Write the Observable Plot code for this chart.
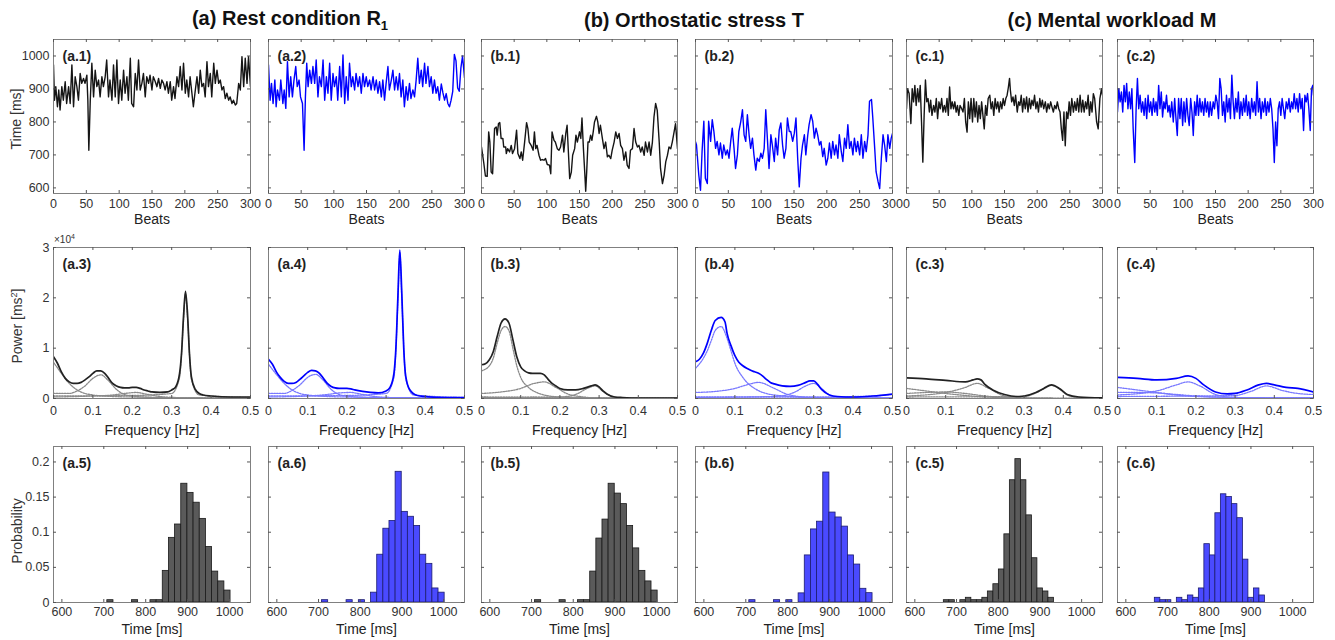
<!DOCTYPE html>
<html><head><meta charset="utf-8">
<script src="https://cdn.jsdelivr.net/npm/d3@7"></script>
<script src="https://cdn.jsdelivr.net/npm/@observablehq/plot@0.6"></script>
<style>
body{margin:0;background:#fff;}
#root{position:relative;width:1335px;height:640px;overflow:hidden;font-family:"Liberation Sans",Arial,Helvetica,sans-serif;}
.abs{position:absolute;white-space:nowrap;line-height:1;}
.title{font-weight:bold;font-size:20px;color:#111;transform:translate(-50%,-50%);}
.ylab{font-size:14px;color:#333;transform:translate(-50%,-50%) rotate(-90deg);}
.exp{font-size:10px;color:#333;}
</style></head><body><div id="root"></div><script>
// ---------- titles & labels ----------
const columnTitles = ["(a) Rest condition  R<sub style='font-size:13px'>1</sub>", "(b) Orthostatic stress T", "(c) Mental workload M"];
const panelLabels = [["(a.1)","(a.2)","(b.1)","(b.2)","(c.1)","(c.2)"],["(a.3)","(a.4)","(b.3)","(b.4)","(c.3)","(c.4)"],["(a.5)","(a.6)","(b.5)","(b.6)","(c.5)","(c.6)"]];
const xLabels = ["Beats","Frequency [Hz]","Time [ms]"];
const yLabels = ["Time [ms]","Power [ms<sup style='font-size:9px'>2</sup>]","Probability"];

// ---------- tick values ----------
const beatTicks = [0,50,100,150,200,250,300];
const rrTicks = [600,700,800,900,1000];
const freqTicks = [0,0.1,0.2,0.3,0.4,0.5];
const powerTicks = [0,1,2,3];            // ×10^4 ms²
const msTicks = [600,700,800,900,1000];
const probTicks = [0,0.05,0.1,0.15,0.2];

// ---------- RR time series [beat, ms] ----------
const a1 = [[0,973],[1.5,866],[3.5,907],[6,846],[8,897],[10,836],[12.7,907],[15,866],[17.8,922],[20,856],[23,907],[25.4,856],[28,973],[30.5,846],[33,937],[35.6,907],[38,866],[40.6,947],[43,917],[45.7,932],[48,917],[50.8,942],[52.3,866],[53.8,714],[56,866],[58.4,978],[61,876],[63.5,957],[66,907],[68.6,927],[71,876],[73.7,937],[76,907],[78.7,937],[81,988],[83.8,876],[86,927],[89,866],[91.4,973],[94,876],[96.5,988],[99,856],[101.6,927],[104,866],[106.7,957],[109,887],[111.8,937],[114,866],[117,993],[119,856],[122,846],[124.5,947],[127,897],[129.5,988],[132,897],[134.6,917],[137,947],[139.7,876],[142,937],[144.8,917],[147,942],[149.9,897],[152,937],[155,922],[157.5,907],[160,932],[162.6,902],[165,927],[167.6,917],[170,897],[172.7,922],[175,887],[177.8,922],[180,866],[182.8,907],[185,871],[188,937],[190.5,907],[193,968],[195.6,897],[198,978],[200.7,887],[203,927],[205.7,876],[208,937],[210.8,887],[213,846],[216,897],[218.5,937],[221,887],[223.5,957],[226,907],[228.6,917],[231,876],[233.7,983],[236,907],[238.8,947],[241,876],[244,978],[246.4,917],[249,957],[251.5,917],[254,927],[256.5,897],[259,907],[261.6,871],[264,887],[266.7,866],[269,876],[271.8,856],[274,866],[276.9,851],[279,856],[282,917],[284.5,897],[287,998],[289.6,907],[292,993],[294.7,917],[297,998],[300,907]];
const a2 = [[0,973],[2.5,866],[4.6,917],[7,856],[9.7,927],[11.7,846],[13.7,897],[16.8,866],[18.8,927],[22,856],[24,897],[26.5,841],[29,983],[31.6,876],[34,937],[36.6,876],[39,927],[41.7,968],[44,907],[46.8,927],[49,876],[52,856],[54.5,714],[56.5,876],[58.5,978],[60.6,907],[63,957],[65.7,917],[68,968],[70.7,917],[73,988],[75.7,876],[78,937],[80.9,907],[83.5,988],[86,866],[88.6,937],[91,887],[93.6,978],[96,866],[98.7,947],[101,907],[103.8,937],[106,866],[108.9,968],[111.5,876],[114,1003],[116.6,856],[119,937],[121.7,866],[124,978],[126.7,907],[129,937],[131.8,897],[134,947],[137,907],[139.5,937],[142,887],[144.6,947],[147,907],[149.6,937],[152,907],[154.8,927],[157,897],[160,937],[162.4,897],[165,927],[167.5,887],[170,922],[172.7,876],[175,927],[177.6,866],[180,917],[182.8,968],[185,897],[188,927],[190.4,957],[193,897],[195.5,937],[198,897],[200.5,947],[203,876],[205.6,927],[208,846],[210.7,907],[213,866],[215.8,917],[218,871],[221,897],[223.5,876],[226,927],[228.5,993],[231,917],[233.8,957],[236,907],[238.9,978],[241,917],[244,968],[246.4,907],[249,937],[251.5,887],[254,927],[256.5,887],[259,907],[261.6,866],[264.5,915],[267,888],[269.5,866],[272,886],[274.5,856],[277,846],[279.5,866],[282,893],[284.5,1005],[287,985],[289.5,903],[292,893],[294.5,964],[297,1000],[300,934]];
const b1 = [[0,724],[3.6,674],[6,636],[8.7,635],[11,770],[12.8,739],[14.8,648],[17,643],[20,780],[22.5,785],[24,760],[26,795],[28,798],[30,750],[32.7,750],[34,724],[37,724],[38,704],[40,719],[43,709],[45.5,729],[47.5,704],[50.6,719],[53.7,775],[55.7,704],[58.8,689],[60.8,709],[63,684],[66,739],[69,798],[71,780],[73,739],[76,729],[79,714],[81,770],[83,719],[85,729],[88,699],[90.5,684],[93,686],[95.6,684],[98,689],[100.7,671],[104,669],[106,643],[108,770],[111,744],[113,739],[116,719],[118.6,714],[121,724],[124,760],[126,709],[129,765],[131,790],[133,709],[135,628],[137.5,648],[139.5,699],[142.6,719],[144.6,760],[146.7,739],[150,770],[152,750],[153.8,812],[156,719],[158,648],[159.5,590],[161,648],[163,739],[165,739],[167,760],[169,744],[171,770],[173,800],[176,817],[178,800],[180,765],[182,790],[185,750],[187.5,719],[190,739],[192.7,694],[195,699],[197.8,689],[200,714],[203,739],[205.5,770],[208,750],[210.6,765],[213,729],[215.7,719],[218,684],[220.8,709],[223,669],[225.8,659],[228,714],[231,719],[233.5,780],[236,739],[238.7,724],[241,729],[243.7,709],[246,724],[249,699],[251,739],[254,709],[256.5,739],[259,699],[261.6,739],[264,815],[266.5,856],[269,835],[272,739],[274,659],[277,613],[279.5,638],[282,679],[284.6,699],[287,724],[289.7,719],[292,739],[294.8,770],[297,795],[300,719]];
const b2 = [[0,740],[1.5,730],[5,639],[7.6,593],[10,710],[12.7,802],[15,629],[18,613],[20,802],[23,741],[25.5,807],[28,771],[30.6,720],[33,741],[35.7,700],[38,736],[40.8,690],[43,730],[46,700],[48.5,715],[51,690],[53.6,741],[56,781],[58.7,720],[61,659],[63.8,700],[66,771],[69,802],[71.5,837],[74,761],[76.5,741],[79,822],[81.6,761],[84,720],[86.7,751],[89,700],[91.8,654],[94,690],[97,680],[99.5,705],[102,690],[104.6,720],[107,837],[109.7,741],[112,659],[114.8,761],[117,730],[120,680],[122,751],[125,700],[127.5,776],[130,797],[132.6,730],[135,690],[137.7,720],[140,812],[142.8,771],[145,771],[148,741],[150.5,766],[153,812],[155.6,690],[158,603],[160.7,690],[163,730],[165.8,761],[168,700],[171,761],[173,792],[176,822],[178.5,802],[181,751],[183.6,781],[186,761],[188.7,730],[191,741],[193.8,695],[196,720],[199,669],[201.5,690],[204,736],[206.6,690],[209,741],[211.7,700],[214,730],[216.8,690],[219,761],[222,710],[224.4,680],[227,751],[229.5,720],[232,792],[234.6,720],[237,741],[239.7,700],[242,751],[244.8,710],[247,741],[250,700],[252.5,761],[255,690],[257.6,741],[260,710],[262.7,761],[265,863],[268,868],[270,812],[272.9,720],[275,649],[278,619],[280.5,598],[283,690],[285.6,761],[288,730],[290.7,680],[293,761],[295.8,720],[298,751],[300,765]];
const c1 = [[0,840],[1.5,901],[4,886],[6.7,795],[8.7,901],[10.8,861],[12.8,911],[14.8,850],[17,901],[19,861],[21,911],[23,800],[25,678],[27,820],[29,927],[31,861],[33,871],[35,830],[37,866],[39,820],[41.5,850],[43.5,830],[45.6,871],[47.6,810],[49.7,861],[51.7,840],[53.8,871],[55.8,830],[57.9,850],[60,830],[62,871],[64,820],[66,906],[68,840],[70,861],[72,840],[74,861],[76,830],[78,850],[80,820],[82,850],[84.5,840],[86.5,830],[88.6,871],[90.6,800],[92.7,769],[94.7,861],[96.8,810],[98.8,871],[101,800],[103,871],[105,815],[107,861],[109,800],[111,850],[113,810],[115,861],[117,820],[119,779],[121,850],[123,820],[125,871],[127.5,881],[129.5,840],[131.6,861],[133.6,820],[135.7,871],[137.7,840],[139.8,861],[141.8,830],[143.9,861],[146,840],[148,871],[150,850],[152,871],[154,881],[156,906],[157.7,932],[159,896],[161,861],[163,876],[165,850],[167,881],[169.5,830],[171.5,861],[173.6,850],[175.6,881],[177.7,830],[179.7,871],[181.8,840],[183.8,876],[186,830],[188,871],[190,840],[192,866],[194,850],[196,881],[198,840],[200,861],[202,830],[204,871],[206,845],[208,866],[210,840],[212.5,861],[214.5,830],[216.6,855],[218.6,840],[220.7,861],[222.7,845],[224.8,830],[226.8,850],[228.9,840],[230.9,861],[233,840],[235,830],[237,779],[239,744],[241,830],[243,728],[245,830],[247,810],[249,861],[251,820],[253,871],[255.5,830],[257.5,861],[259.6,835],[261.6,871],[263.7,830],[265.7,881],[267.8,830],[269.8,866],[271.9,830],[274,861],[276,840],[278,881],[280,820],[282,861],[284,830],[286,886],[288,871],[291,800],[293.4,779],[296,871],[298.5,901],[300,881]];
const c2 = [[0,830],[2,901],[4,861],[6,891],[8,830],[10,911],[12,861],[14,917],[16,840],[18,891],[20,840],[22,901],[24,779],[26.4,677],[28.5,840],[30.5,932],[32.5,840],[34.6,881],[36.6,830],[38.6,861],[40.7,820],[42.7,871],[44.7,810],[46.8,881],[48.8,830],[50.9,861],[52.9,820],[55,871],[57,830],[59,861],[61,820],[63,911],[65,840],[67,891],[69,815],[71,861],[73,840],[75,881],[77,830],[79,850],[81,815],[83,861],[85.4,800],[87.5,871],[89.5,810],[91.5,759],[93.5,871],[95.6,810],[97.6,871],[99.7,789],[101.7,861],[103.7,800],[105.8,871],[107.8,820],[109.8,789],[112,871],[114,830],[116,759],[118,861],[120,820],[122,881],[124,820],[126,871],[128,830],[130,861],[132,820],[134,871],[136,830],[138,861],[140,815],[142,861],[144,820],[146.5,861],[148.5,840],[150.5,881],[152.5,861],[154.6,810],[156.6,932],[158.6,901],[160.7,820],[162.7,861],[164.8,800],[166.8,881],[168.8,830],[170.9,871],[172.9,810],[175,942],[177,861],[179,810],[181,871],[183,830],[185,891],[187,810],[189,861],[191.2,820],[193,871],[195,830],[197,881],[199,820],[201,861],[203,810],[205.4,871],[207.4,830],[209.5,861],[211.5,820],[213.6,922],[215.6,830],[217.6,871],[219.7,810],[221.7,861],[223.7,830],[225.8,871],[227.8,820],[229.8,861],[231.9,830],[233.9,871],[236,840],[238,779],[240,677],[242,800],[244,728],[246,840],[248,861],[250,820],[252,871],[254,840],[256,810],[258.3,861],[260.4,840],[262.4,871],[264.4,830],[266.5,861],[268.5,840],[270.5,886],[272.6,840],[274.6,871],[276.6,830],[278.7,886],[280.7,840],[282.7,871],[284.8,774],[286.8,881],[288.8,861],[290.9,886],[292.9,840],[295,774],[297,901],[299,911],[300,881]];

// ---------- power spectra [Hz, power ×10^4 ms²]: total and components ----------
const a3Total = [[0,0.83],[0.01,0.7],[0.02,0.53],[0.03,0.4],[0.04,0.33],[0.05,0.3],[0.06,0.3],[0.07,0.32],[0.08,0.37],[0.09,0.43],[0.1,0.5],[0.11,0.55],[0.12,0.55],[0.13,0.5],[0.14,0.4],[0.15,0.3],[0.16,0.25],[0.17,0.22],[0.18,0.21],[0.19,0.21],[0.2,0.22],[0.21,0.22],[0.22,0.2],[0.23,0.17],[0.24,0.15],[0.25,0.13],[0.27,0.12],[0.29,0.13],[0.3,0.17],[0.31,0.23],[0.32,0.5],[0.325,0.9],[0.33,1.63],[0.335,2.13],[0.34,1.7],[0.345,0.9],[0.35,0.43],[0.36,0.18],[0.37,0.1],[0.38,0.07],[0.4,0.05],[0.45,0.03],[0.5,0.03]];
const a3Comps = [
  [[0,0.72],[0.02,0.5],[0.04,0.3],[0.06,0.17],[0.08,0.1],[0.1,0.07],[0.15,0.04],[0.2,0.03],[0.3,0.02],[0.5,0.01]],
  [[0,0.1],[0.04,0.1],[0.06,0.15],[0.08,0.25],[0.1,0.4],[0.12,0.47],[0.14,0.35],[0.16,0.18],[0.18,0.08],[0.2,0.05],[0.25,0.02],[0.3,0.01],[0.5,0]],
  [[0,0.03],[0.1,0.05],[0.15,0.07],[0.18,0.1],[0.21,0.12],[0.24,0.08],[0.27,0.04],[0.3,0.02],[0.5,0.01]],
  [[0,0.05],[0.2,0.06],[0.3,0.1],[0.32,0.42],[0.33,1.55],[0.335,2.08],[0.34,1.62],[0.35,0.38],[0.37,0.07],[0.5,0.02]]
];
const a4Total = [[0,0.78],[0.01,0.68],[0.02,0.53],[0.03,0.42],[0.04,0.34],[0.05,0.3],[0.06,0.3],[0.07,0.32],[0.08,0.38],[0.09,0.45],[0.1,0.52],[0.11,0.56],[0.12,0.55],[0.13,0.5],[0.14,0.4],[0.15,0.3],[0.16,0.24],[0.17,0.21],[0.18,0.2],[0.2,0.2],[0.21,0.19],[0.22,0.17],[0.24,0.14],[0.26,0.12],[0.28,0.11],[0.3,0.15],[0.31,0.22],[0.32,0.5],[0.325,1.0],[0.33,2.0],[0.335,2.95],[0.34,2.1],[0.345,1.0],[0.35,0.45],[0.36,0.18],[0.38,0.06],[0.4,0.04],[0.45,0.02],[0.5,0.02]];
const a4Comps = [
  [[0,0.68],[0.02,0.48],[0.04,0.3],[0.06,0.17],[0.08,0.1],[0.1,0.07],[0.15,0.04],[0.2,0.03],[0.3,0.02],[0.5,0.01]],
  [[0,0.1],[0.04,0.1],[0.06,0.16],[0.08,0.27],[0.1,0.42],[0.12,0.48],[0.14,0.36],[0.16,0.18],[0.18,0.08],[0.2,0.05],[0.25,0.02],[0.3,0.01],[0.5,0]],
  [[0,0.03],[0.1,0.05],[0.15,0.08],[0.18,0.11],[0.21,0.12],[0.24,0.08],[0.27,0.04],[0.3,0.02],[0.5,0.01]],
  [[0,0.05],[0.2,0.06],[0.3,0.1],[0.32,0.42],[0.33,1.9],[0.335,2.9],[0.34,2.0],[0.35,0.4],[0.37,0.07],[0.5,0.02]]
];
const b3Total = [[0,0.67],[0.01,0.69],[0.02,0.77],[0.03,0.93],[0.04,1.23],[0.05,1.5],[0.06,1.58],[0.07,1.5],[0.08,1.17],[0.09,0.83],[0.1,0.63],[0.11,0.55],[0.12,0.51],[0.13,0.5],[0.14,0.5],[0.15,0.5],[0.16,0.47],[0.17,0.38],[0.18,0.3],[0.19,0.25],[0.2,0.2],[0.22,0.17],[0.24,0.17],[0.26,0.2],[0.28,0.25],[0.29,0.27],[0.3,0.23],[0.31,0.15],[0.32,0.09],[0.34,0.03],[0.36,0.02],[0.4,0.01],[0.5,0.01]];
const b3Comps = [
  [[0,0.55],[0.02,0.65],[0.03,0.8],[0.04,1.1],[0.05,1.35],[0.06,1.43],[0.07,1.35],[0.08,1.0],[0.09,0.65],[0.1,0.42],[0.12,0.22],[0.14,0.12],[0.16,0.07],[0.2,0.03],[0.3,0.01],[0.5,0]],
  [[0,0.1],[0.05,0.13],[0.1,0.2],[0.13,0.29],[0.16,0.33],[0.19,0.22],[0.22,0.09],[0.25,0.04],[0.3,0.01],[0.5,0]],
  [[0,0.02],[0.2,0.03],[0.24,0.08],[0.27,0.2],[0.29,0.25],[0.31,0.14],[0.33,0.05],[0.36,0.01],[0.5,0]],
  [[0,0.03],[0.5,0.01]]
];
const b4Total = [[0,0.73],[0.01,0.78],[0.02,0.9],[0.03,1.1],[0.04,1.35],[0.05,1.55],[0.065,1.61],[0.075,1.52],[0.08,1.3],[0.09,1.05],[0.1,0.85],[0.11,0.72],[0.12,0.65],[0.13,0.6],[0.14,0.56],[0.15,0.53],[0.16,0.5],[0.17,0.45],[0.18,0.38],[0.19,0.32],[0.2,0.29],[0.22,0.25],[0.24,0.24],[0.26,0.26],[0.28,0.32],[0.29,0.35],[0.3,0.35],[0.31,0.28],[0.32,0.18],[0.34,0.07],[0.36,0.04],[0.4,0.03],[0.45,0.05],[0.5,0.09]];
const b4Comps = [
  [[0,0.6],[0.02,0.8],[0.03,0.95],[0.04,1.15],[0.05,1.35],[0.065,1.43],[0.08,1.2],[0.09,0.95],[0.1,0.7],[0.12,0.42],[0.15,0.2],[0.2,0.07],[0.3,0.02],[0.5,0.01]],
  [[0,0.12],[0.05,0.14],[0.1,0.2],[0.13,0.27],[0.16,0.32],[0.2,0.2],[0.23,0.09],[0.26,0.04],[0.3,0.01],[0.5,0]],
  [[0,0.02],[0.2,0.04],[0.25,0.12],[0.28,0.25],[0.3,0.3],[0.32,0.2],[0.34,0.07],[0.37,0.02],[0.5,0.01]],
  [[0,0.03],[0.3,0.03],[0.4,0.04],[0.45,0.05],[0.5,0.08]]
];
const c3Total = [[0,0.41],[0.05,0.39],[0.1,0.36],[0.15,0.33],[0.17,0.37],[0.18,0.39],[0.19,0.37],[0.2,0.28],[0.22,0.17],[0.25,0.08],[0.28,0.04],[0.3,0.05],[0.33,0.12],[0.35,0.2],[0.37,0.27],[0.39,0.2],[0.41,0.08],[0.44,0.03],[0.5,0.013]];
const c3Comps = [
  [[0,0.2],[0.05,0.15],[0.1,0.1],[0.15,0.06],[0.2,0.03],[0.3,0.01],[0.5,0]],
  [[0,0.1],[0.05,0.12],[0.1,0.13],[0.15,0.1],[0.2,0.05],[0.25,0.02],[0.3,0.01],[0.5,0]],
  [[0,0.05],[0.1,0.12],[0.15,0.22],[0.18,0.3],[0.21,0.2],[0.25,0.05],[0.3,0.01],[0.5,0]],
  [[0,0.03],[0.3,0.04],[0.33,0.11],[0.35,0.19],[0.37,0.26],[0.39,0.19],[0.41,0.07],[0.44,0.02],[0.5,0.01]]
];
const c4Total = [[0,0.42],[0.05,0.4],[0.1,0.37],[0.15,0.4],[0.18,0.45],[0.2,0.4],[0.22,0.27],[0.25,0.13],[0.28,0.09],[0.3,0.1],[0.33,0.17],[0.36,0.27],[0.38,0.3],[0.4,0.27],[0.43,0.22],[0.46,0.2],[0.5,0.13]];
const c4Comps = [
  [[0,0.22],[0.05,0.17],[0.1,0.12],[0.15,0.07],[0.2,0.04],[0.3,0.02],[0.5,0.01]],
  [[0,0.12],[0.05,0.12],[0.1,0.11],[0.15,0.08],[0.2,0.05],[0.3,0.02],[0.5,0.01]],
  [[0,0.07],[0.1,0.15],[0.15,0.27],[0.18,0.33],[0.21,0.25],[0.25,0.08],[0.3,0.02],[0.5,0.01]],
  [[0,0.04],[0.3,0.06],[0.34,0.14],[0.38,0.25],[0.42,0.16],[0.46,0.1],[0.5,0.08]]
];

// ---------- RR histograms: first bin edge [ms], bin width [ms], probabilities ----------
const abStart = 708.4, abWidth = 14.7;
const a5Prob = [0.0033,0,0,0,0.0033,0,0,0.0033,0.0033,0.045,0.092,0.111,0.169,0.156,0.142,0.119,0.079,0.044,0.030,0.017];
const a6Prob = [0.0033,0,0,0,0.0033,0,0.0033,0,0.014,0.068,0.105,0.116,0.186,0.129,0.122,0.109,0.068,0.055,0.020,0.014];
const b5Prob = [0.0033,0,0,0,0.0033,0,0,0.0033,0.0033,0.044,0.091,0.118,0.169,0.155,0.140,0.109,0.077,0.045,0.030,0.017];
const b6Prob = [0.0033,0,0,0,0.0033,0,0.0033,0,0.013,0.067,0.104,0.115,0.185,0.128,0.121,0.108,0.067,0.054,0.0195,0.0133];
const cStart = 669.5, cWidth = 13.2;
const c5Prob = [0.0033,0.0033,0,0.0033,0.0067,0.0033,0.0033,0.0067,0.0157,0.026,0.047,0.097,0.174,0.204,0.174,0.124,0.063,0.020,0.0157,0.0067];
const c6Prob = [0.0067,0.0033,0.0033,0,0.0067,0.0033,0.01,0.0067,0.020,0.083,0.067,0.127,0.154,0.150,0.140,0.120,0.061,0.0067,0.020,0.01];

// ---------- layout ----------
const FONT = '"Liberation Sans", Arial, Helvetica, sans-serif';
const colL = [53,268,481,695,906,1117], colR = [250,464,677,892,1102,1313];
const rowT = [39,247,446], rowB = [193,398,602];
const root = document.getElementById("root");
const BLACK = "#151515", BLUE = "#0000ff";

function addDiv(html, cls, x, y){
  const d = document.createElement("div");
  d.className = "abs " + cls; d.innerHTML = html;
  d.style.left = x + "px"; d.style.top = y + "px";
  root.appendChild(d);
}

const rowCfg = [
  {xDomain:[0,300], yDomain:[583,1050], xTicks:beatTicks, yTicks:rrTicks, xPad:6, xLabDy:26},
  {xDomain:[0,0.5], yDomain:[0,3], xTicks:freqTicks, yTicks:powerTicks, xPad:8, xLabDy:32},
  {xDomain:[580,1050], yDomain:[0,0.222], xTicks:msTicks, yTicks:probTicks, xPad:5, xLabDy:27}
];

function panel(row, col, marks){
  const cfg = rowCfg[row];
  const L = colL[col], R = colR[col], T = rowT[row], B = rowB[row];
  const w = R - L, h = B - T, ML = 50, MR = 22, MT = 8, MB = 44;
  const all = [
    ...marks,
    Plot.frame({stroke:"#808080"}),
    Plot.tickX(cfg.xTicks, {x:d=>d, insetTop:h-3, stroke:"#555"}),
    Plot.tickX(cfg.xTicks, {x:d=>d, insetBottom:h-3, stroke:"#555"}),
    Plot.tickY(cfg.yTicks, {y:d=>d, insetRight:w-3, stroke:"#555"}),
    Plot.tickY(cfg.yTicks, {y:d=>d, insetLeft:w-3, stroke:"#555"}),
    Plot.axisX({ticks:cfg.xTicks, tickSize:0, tickPadding:cfg.xPad, tickFormat:d=>String(d), label:null, fontSize:12.5}),
    Plot.text([panelLabels[row][col]], {frameAnchor:"top-left", dx:9, dy:17, lineAnchor:"middle", textAnchor:"start", fontWeight:"bold", fontSize:14, fill:"#222"}),
    Plot.text([xLabels[row]], {frameAnchor:"bottom", dy:cfg.xLabDy, lineAnchor:"middle", fontSize:14, fill:"#222"})
  ];
  if (col === 0) all.push(Plot.axisY({ticks:cfg.yTicks, tickSize:0, tickPadding:4, tickFormat:d=>String(d), label:null, fontSize:12.5}));
  const svg = Plot.plot({
    width:w+ML+MR, height:h+MT+MB, marginLeft:ML, marginRight:MR, marginTop:MT, marginBottom:MB,
    x:{domain:cfg.xDomain, axis:null}, y:{domain:cfg.yDomain, axis:null},
    style:{fontFamily:FONT, background:"transparent", color:"#333", overflow:"visible"},
    marks:all
  });
  svg.style.position = "absolute";
  svg.style.left = (L - ML) + "px";
  svg.style.top = (T - MT) + "px";
  root.appendChild(svg);
}

const seriesMarks = (data, color) => [Plot.line(data, {x:d=>d[0], y:d=>d[1], stroke:color, strokeWidth:1.4, clip:true})];
const specMarks = (total, comps, color, light) => [
  ...comps.map(c => Plot.line(c, {x:d=>d[0], y:d=>d[1], stroke:light, strokeWidth:1.3, strokeDasharray:"1.5,1.2", curve:"monotone-x", clip:true})),
  Plot.line(total, {x:d=>d[0], y:d=>d[1], stroke:color, strokeWidth:1.7, curve:"monotone-x", clip:true})
];
const histMarks = (start, width, probs, fill, stroke) => {
  const bins = probs.map((p,i)=>({x1:start+i*width, x2:start+(i+1)*width, p})).filter(d=>d.p>0);
  return [Plot.rectY(bins, {x1:"x1", x2:"x2", y:"p", fill, stroke, strokeWidth:0.8})];
};

// row 1
[a1,a2,b1,b2,c1,c2].forEach((s,i)=>panel(0, i, seriesMarks(s, i%2 ? BLUE : BLACK)));
// row 2
[[a3Total,a3Comps],[a4Total,a4Comps],[b3Total,b3Comps],[b4Total,b4Comps],[c3Total,c3Comps],[c4Total,c4Comps]]
  .forEach(([t,c],i)=>panel(1, i, i%2 ? specMarks(t,c,BLUE,"#7878ff") : specMarks(t,c,"#222","#8a8a8a")));
// row 3
[[abStart,abWidth,a5Prob],[abStart,abWidth,a6Prob],[abStart,abWidth,b5Prob],[abStart,abWidth,b6Prob],[cStart,cWidth,c5Prob],[cStart,cWidth,c6Prob]]
  .forEach(([s,w,p],i)=>panel(2, i, i%2 ? histMarks(s,w,p,"#4a4aff","#1c1c70") : histMarks(s,w,p,"#5a5a5a","#1a1a1a")));

// titles and shared labels
addDiv(columnTitles[0], "title", 290, 20);
addDiv(columnTitles[1], "title", 694, 20);
addDiv(columnTitles[2], "title", 1112, 20);
addDiv(yLabels[0], "ylab", 16, 119);
addDiv(yLabels[1], "ylab", 17, 326);
addDiv(yLabels[2], "ylab", 17, 531);
addDiv("×10<sup style='font-size:7px'>4</sup>", "exp", 54, 233);
</script></body></html>
